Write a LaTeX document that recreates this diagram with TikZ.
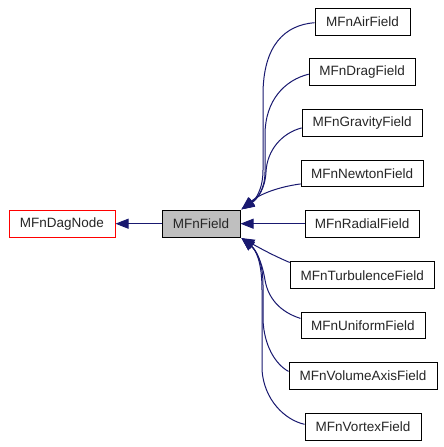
\documentclass[tikz,border=0pt]{standalone}
\usepackage{fontspec}
\setmainfont{Liberation Sans}
\usetikzlibrary{arrows.meta}
\definecolor{edgeblue}{HTML}{191970}
\definecolor{boxgray}{HTML}{BFBFBF}
\begin{document}
\begin{tikzpicture}[x=1pt,y=-1pt,
  cls/.style={draw=black,line width=1pt,minimum height=26.7pt,inner sep=0pt,
    font=\fontsize{13.5}{15}\selectfont,text=black!85},
  inh/.style={draw=edgeblue,line width=1pt,
    -{Triangle[length=13pt,width=10pt]},color=edgeblue}]
\useasboundingbox[fill=white] (0,0) rectangle (444,447);
% nodes
\node[cls,draw=red,minimum width=106pt] (dag) at (62,223.7) {MFnDagNode};
\node[cls,fill=boxgray,minimum width=78pt] (field) at (201,223.7) {MFnField};
\node[cls,minimum width=95pt]  (air)   at (362.5,21.7)  {MFnAirField};
\node[cls,minimum width=106pt] (drag)  at (362.2,72.2)  {MFnDragField};
\node[cls,minimum width=120pt] (grav)  at (362.2,122.9) {MFnGravityField};
\node[cls,minimum width=122pt] (newt)  at (362.2,173.4) {MFnNewtonField};
\node[cls,minimum width=114pt] (rad)   at (362.2,223.7) {MFnRadialField};
\node[cls,minimum width=144pt] (turb)  at (362.2,275.3) {MFnTurbulenceField};
\node[cls,minimum width=124pt] (unif)  at (363,325.4)   {MFnUniformField};
\node[cls,minimum width=148pt] (vol)   at (363,375.9)   {MFnVolumeAxisField};
\node[cls,minimum width=116pt] (vort)  at (363,426.8)   {MFnVortexField};
\coordinate (ftop) at ([xshift=1pt,yshift=0.5pt]field.north east);
\coordinate (fbot) at ([xshift=1pt,yshift=-0.5pt]field.south east);
% edges
\draw[inh] (field.west) -- (dag.east);
\draw[inh] (rad.west) -- (field.east);
\draw[inh] ([yshift=-1pt]air.west) .. controls (285,25) and (263,45) .. (263,95)
  -- (263,170) .. controls (263,190) and (255,200) .. (ftop);
\draw[inh] ([yshift=-2pt]drag.west) .. controls (285,80) and (265,100) .. (265,135)
  -- (265,172) .. controls (265,190) and (256,200) .. (ftop);
\draw[inh] ([yshift=-5pt]grav.west) .. controls (282,133) and (267,150) .. (266,172)
  .. controls (265,190) and (257,199) .. (ftop);
\draw[inh] ([yshift=-10.5pt]newt.west) .. controls (278,187) and (260,194) .. (ftop);
\draw[inh] ([yshift=-1pt]turb.north west) .. controls (272,255) and (258,247) .. (fbot);
\draw[inh] ([yshift=7pt]unif.west) .. controls (280,312) and (268,298) .. (265,280)
  .. controls (262,262) and (256,250) .. (fbot);
\draw[inh] ([yshift=4.5pt]vol.west) .. controls (275,364) and (264,345) .. (263,320)
  -- (263,285) .. controls (263,262) and (256,250) .. (fbot);
\draw[inh] ([yshift=2.5pt]vort.west) .. controls (285,420) and (264,400) .. (262,370)
  -- (262,290) .. controls (262,262) and (256,250) .. (fbot);
\end{tikzpicture}
\end{document}
